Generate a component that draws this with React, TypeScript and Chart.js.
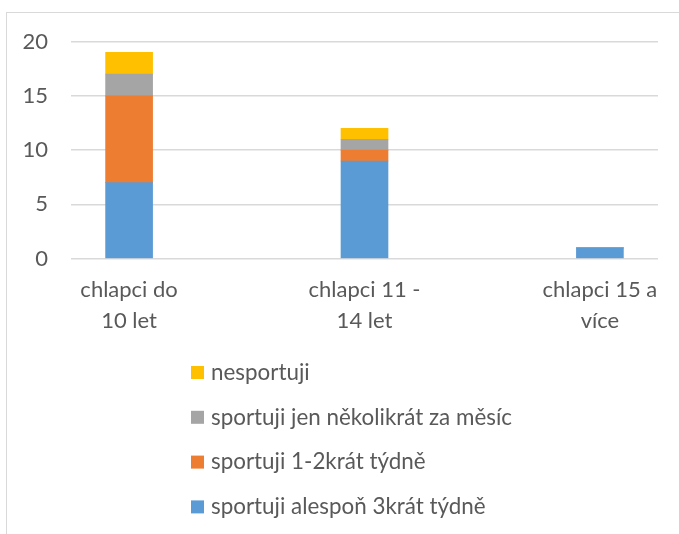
import React, { useEffect, useRef } from "react";
import { Chart, registerables } from "chart.js";

Chart.register(...registerables);

const categories: string[][] = [
  ["chlapci do", "10 let"],
  ["chlapci 11 -", "14 let"],
  ["chlapci 15 a", "více"],
];
const seriesNames = [
  "sportuji alespoň 3krát týdně",
  "sportuji 1-2krát týdně",
  "sportuji jen několikrát za měsíc",
  "nesportuji",
];
const alespon3 = [7, 9, 1];
const dvakrat = [8, 1, 0];
const mesicne = [2, 1, 0];
const nesportuji = [2, 1, 0];
const yTicks = [0, 5, 10, 15, 20];

const colors = ["#5B9BD5", "#ED7D31", "#A5A5A5", "#FFC000"];
const FONT = "Lato, 'Open Sans', sans-serif";
const TEXT = "#595959";
const FS = 22;
const LEGEND_FS = 22.4;

const legendPlugin = {
  id: "vlegend",
  afterDraw(chart: any) {
    const ctx = chart.ctx;
    const ds = chart.data.datasets;
    ctx.save();
    ctx.font = `${LEGEND_FS}px ${FONT}`;
    ctx.textBaseline = "middle";
    ctx.textAlign = "left";
    const n = ds.length;
    for (let k = 0; k < n; k++) {
      const d = ds[n - 1 - k];
      const cy = 372.5 + k * 44.8;
      ctx.fillStyle = d.backgroundColor;
      ctx.fillRect(191, cy - 6.5, 13, 13);
      ctx.fillStyle = TEXT;
      ctx.fillText(d.label, 211, cy);
    }
    ctx.restore();
  },
};

export default function App() {
  const ref = useRef<HTMLCanvasElement | null>(null);
  useEffect(() => {
    if (!ref.current) return;
    const values = [alespon3, dvakrat, mesicne, nesportuji];
    const chart = new Chart(ref.current, {
      type: "bar",
      data: {
        datasets: values.map((arr, i) => ({
          label: seriesNames[i],
          data: arr.map((v, j) => ({ x: j, y: v })),
          backgroundColor: colors[i],
          borderWidth: 0,
          barThickness: 47,
        })),
      },
      options: {
        animation: false,
        responsive: false,
        maintainAspectRatio: false,
        layout: { padding: { top: 41.5, right: 21, left: 0, bottom: 0 } },
        plugins: {
          legend: { display: false },
          tooltip: { enabled: false },
        },
        scales: {
          x: {
            type: "linear",
            stacked: true,
            offset: false,
            min: -0.2468,
            max: 2.2468,
            grid: { display: false, drawTicks: false, offset: false },
            border: { display: false },
            afterBuildTicks: (axis: any) => {
              axis.ticks = categories.map((_, i) => ({ value: i }));
            },
            afterFit: (axis: any) => {
              axis.height = 534 - 258.7;
            },
            ticks: {
              autoSkip: false,
              maxRotation: 0,
              padding: 16.5,
              color: TEXT,
              font: { family: FONT, size: FS, lineHeight: 1.37 },
              callback: (v: any) => categories[Number(v)] ?? "",
            },
          },
          y: {
            stacked: true,
            min: 0,
            max: 20,
            grid: { color: "#D9D9D9", lineWidth: 1.5, drawTicks: false },
            border: { display: false },
            afterBuildTicks: (axis: any) => {
              axis.ticks = yTicks.map((v) => ({ value: v }));
            },
            afterFit: (axis: any) => {
              axis.width = 71;
            },
            ticks: {
              padding: 23,
              color: TEXT,
              font: { family: FONT, size: FS },
            },
          },
        },
      },
      plugins: [legendPlugin],
    });
    return () => chart.destroy();
  }, []);
  return (
    <div style={{ position: "fixed", left: 0, top: 0, width: 679, height: 534, background: "#fff", overflow: "hidden" }}>
      <div
        style={{
          position: "absolute",
          left: 6,
          top: 11.5,
          width: 720,
          height: 600,
          border: "1.5px solid #D9D9D9",
          boxSizing: "border-box",
        }}
      />
      <canvas ref={ref} width={679} height={534} style={{ position: "absolute", left: 0, top: 0 }} />
    </div>
  );
}
